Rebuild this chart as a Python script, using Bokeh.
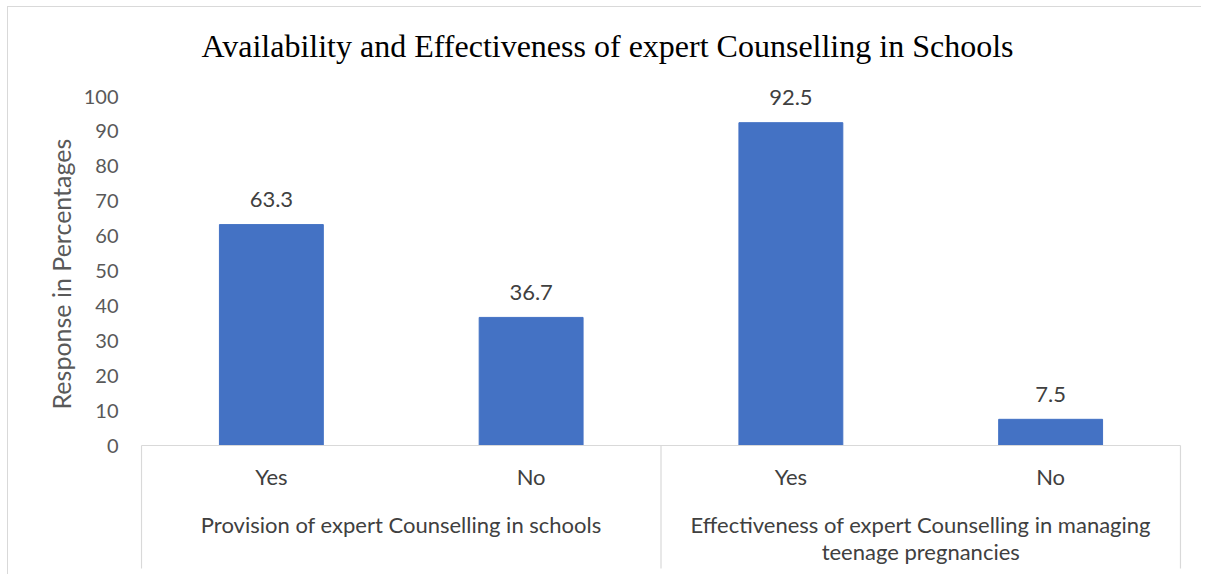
import numpy as np
from bokeh.plotting import figure
from bokeh.models import (FactorRange, Range1d, ColumnDataSource, LabelSet, Title,
                          FixedTicker)
from bokeh.core.properties import value
from bokeh.embed import file_html
from bokeh.resources import INLINE

# ---- data ----
title_text = "Availability  and Effectiveness of expert Counselling in Schools"
groups = ["Provision of expert Counselling in schools",
          "Effectiveness of expert Counselling in managing teenage pregnancies"]
group_labels = ["Provision of expert Counselling in schools",
                "Effectiveness of expert Counselling in managing\nteenage pregnancies"]
responses = ["Yes", "No"]
values = [63.3, 36.7, 92.5, 7.5]
y_ticks = [0, 10, 20, 30, 40, 50, 60, 70, 80, 90, 100]
y_label = "Response in Percentages"

# ---- style / layout constants ----
SANS = "Lato"
BAR = "#4472C4"
GRAY = "#595959"
DARK = "#404040"
LINE = "#d9d9d9"

W, H = 1194, 568
FRAME_L, FRAME_R = 133, 1172          # pixel edges of the category span
FRAME_T = 70                          # top of plotting frame
ZERO_PX, HUNDRED_PX = 438, 89         # pixel rows of 0 and 100
PPU = (ZERO_PX - HUNDRED_PX) / 100.0  # pixels per y unit

factors = [(g, r) for g in groups for r in responses]
n_cat = len(factors)
unit_px = (FRAME_R - FRAME_L) / n_cat
pad = 1.0 / unit_px                   # 1 px padding so edge lines are not clipped
x_range = FactorRange(*factors, factor_padding=0, group_padding=0,
                      range_padding=pad, range_padding_units="absolute")
y_range = Range1d(-(H - ZERO_PX) / PPU, (ZERO_PX - FRAME_T) / PPU)

p = figure(x_range=x_range, y_range=y_range, width=W, height=H,
           x_axis_location=None, output_backend="svg", toolbar_location=None,
           min_border_left=FRAME_L - 1, min_border_right=W - FRAME_R - 1,
           min_border_top=FRAME_T, min_border_bottom=0)
p.styles = {"border-left": "1px solid #d9d9d9", "border-top": "1px solid #d9d9d9",
            "margin-left": "7px", "margin-top": "6px"}
p.outline_line_color = None
p.xgrid.visible = False
p.ygrid.visible = False
p.background_fill_color = "white"

# title
p.title.text = title_text
p.title.align = "left"
p.title.offset = 61
p.title.standoff = 28
p.title.text_font = "Liberation Serif"
p.title.text_font_size = "32px"
p.title.text_font_style = "normal"
p.title.text_color = "#000000"

# y axis
ax = p.yaxis[0]
ax.ticker = FixedTicker(ticks=y_ticks)
ax.axis_line_color = None
ax.major_tick_line_color = None
ax.minor_tick_line_color = None
ax.major_label_standoff = 16
ax.major_label_text_font = SANS
ax.major_label_text_font_size = "20px"
ax.major_label_text_color = GRAY

p.add_layout(Title(text=y_label, align="left", offset=166, standoff=10,
                   text_font=SANS, text_font_size="25px", text_font_style="normal",
                   text_color=GRAY), "left")

# bars + labels
src = ColumnDataSource(dict(x=factors, top=values, label=[f"{v:g}" for v in values]))
p.vbar(x="x", top="top", bottom=0, width=0.4, source=src, fill_color=BAR, line_color=BAR)
p.add_layout(LabelSet(x="x", y="top", text="label", source=src, y_offset=25,
                      text_align="center", text_baseline="middle",
                      text_font=value(SANS), text_font_size="22px",
                      text_color=DARK))

# category axis: baseline, separators, labels
bounds = np.cumsum([0] + [len(responses)] * len(groups)).astype(float)
p.segment(x0=[bounds[0]], x1=[bounds[-1]], y0=[0], y1=[0], line_color=LINE, line_width=1.2)
y_sep_end = -(561 - ZERO_PX) / PPU
p.segment(x0=bounds, x1=bounds, y0=[0] * len(bounds), y1=[y_sep_end] * len(bounds),
          line_color=LINE, line_width=1.2)

sub_src = ColumnDataSource(dict(x=factors, y=[-31 / PPU] * n_cat,
                                t=[r for g in groups for r in responses]))
p.text(x="x", y="y", text="t", source=sub_src, text_align="center",
       text_baseline="middle", text_font=value(SANS), text_font_size="22px",
       text_color=DARK)
grp_src = ColumnDataSource(dict(x=groups, y=[-65 / PPU] * len(groups), t=group_labels))
p.text(x="x", y="y", text="t", source=grp_src, text_align="center",
       text_baseline="top", text_font=value(SANS), text_font_size="22px",
       text_color=DARK, text_line_height=1.0)

open("out.html", "w").write(file_html(p, INLINE))
